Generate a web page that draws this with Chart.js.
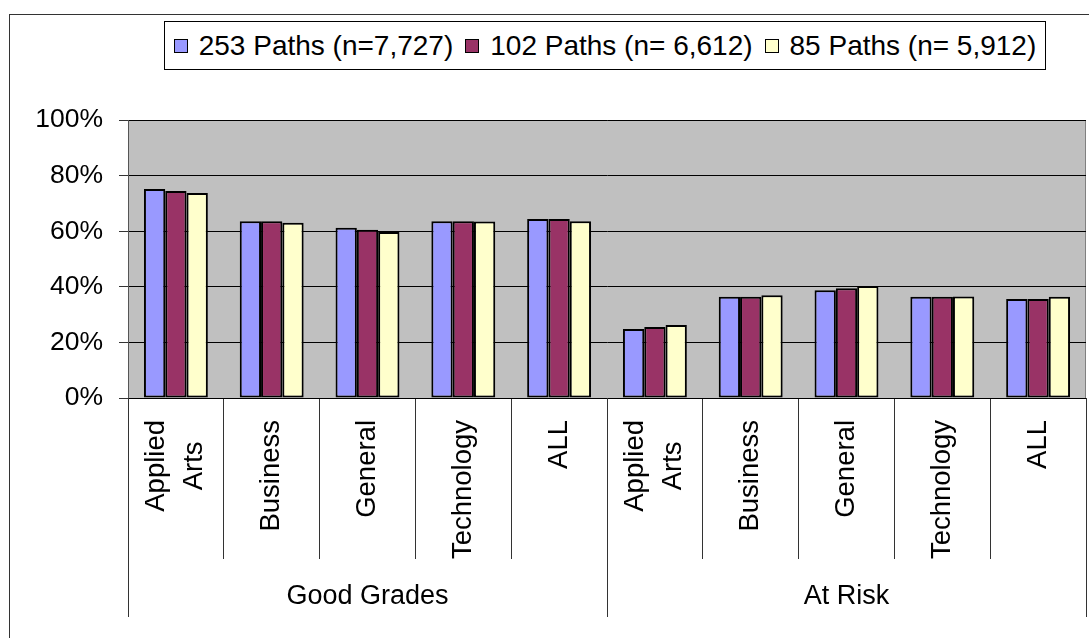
<!DOCTYPE html>
<html>
<head>
<meta charset="utf-8">
<script src="https://cdn.jsdelivr.net/npm/chart.js@4"></script>
<style>
  html, body { margin: 0; padding: 0; background: #fff; overflow: hidden; }
  #wrap { position: relative; width: 1089px; height: 638px; }
  #frame {
    position: absolute; left: 9px; top: 14px; width: 1200px; height: 800px;
    border: 1px solid #333; box-sizing: border-box;
  }
  #chart { position: absolute; left: 0; top: 0; }
  #legend {
    position: absolute; left: 164px; top: 21px; width: 882px; height: 49px;
    border: 1px solid #000; box-sizing: border-box; background: #fff;
    display: flex; align-items: center; justify-content: center;
    font: 28px "Liberation Sans", Arial, sans-serif; color: #000; white-space: nowrap;
  }
  #legend .item { display: flex; align-items: center; margin: 0 6px; }
  #legend .sw { width: 12px; height: 12px; border: 1px solid #000; margin-right: 11px; }
</style>
</head>
<body>
<div id="wrap">
  <div id="frame"></div>
  <canvas id="chart" width="1089" height="638"></canvas>
  <div id="legend"></div>
</div>
<script>
// ---- data ----
const CATEGORIES = [
  ["Applied", "Arts"], "Business", "General", "Technology", "ALL",
  ["Applied", "Arts"], "Business", "General", "Technology", "ALL",
];
const GROUPS = ["Good Grades", "At Risk"];
const GROUP_SIZES = [5, 5];

const SERIES_LABELS = ["253 Paths (n=7,727)", "102 Paths (n= 6,612)", "85 Paths (n= 5,912)"];
const SERIES_COLORS = ["#9999FF", "#993366", "#FFFFCC"];

const PATHS_253 = [75.2, 63.6, 61.2, 63.6, 64.4, 24.8, 36.4, 38.8, 36.4, 35.6];
const PATHS_102 = [74.5, 63.6, 60.5, 63.6, 64.4, 25.5, 36.4, 39.5, 36.4, 35.6];
const PATHS_85  = [73.7, 63.0, 59.7, 63.5, 63.6, 26.3, 37.0, 40.3, 36.5, 36.4];

const Y_TICKS = [0, 20, 40, 60, 80, 100];

const FONT = '"Liberation Sans", Arial, sans-serif';

// grey plot area with a thin border
const plotBackground = {
  id: "plotBackground",
  beforeDraw(chart) {
    const { ctx, chartArea: a } = chart;
    ctx.save();
    ctx.fillStyle = "#C0C0C0";
    ctx.fillRect(a.left, a.top, a.right - a.left, a.bottom - a.top);
    ctx.strokeStyle = "#808080";
    ctx.lineWidth = 1;
    ctx.strokeRect(a.left + 0.5, a.top + 0.5, a.right - a.left - 1, a.bottom - a.top);
    ctx.restore();
  }
};

// rotated category labels + group labels underneath (Excel style)
const categoryLabels = {
  id: "categoryLabels",
  afterDraw(chart) {
    const { ctx } = chart;
    const x = chart.scales.x;
    const lineH = 38;
    ctx.save();
    ctx.fillStyle = "#000";
    ctx.font = "27.5px " + FONT;
    ctx.textAlign = "center";
    ctx.textBaseline = "middle";

    chart.data.labels.forEach((lab, i) => {
      const lines = Array.isArray(lab) ? lab : [lab];
      const w = Math.max(...lines.map(l => ctx.measureText(l).width));
      const cx = x.getPixelForTick(i);
      const cy = x.top + 22 + w / 2;
      lines.forEach((l, j) => {
        ctx.save();
        ctx.translate(cx + (j - (lines.length - 1) / 2) * lineH, cy);
        ctx.rotate(-Math.PI / 2);
        ctx.fillText(l, 0, 0);
        ctx.restore();
      });
    });

    // group separators and names
    const half = (x.getPixelForTick(1) - x.getPixelForTick(0)) / 2;
    let start = 0;
    const edges = [x.left];
    GROUP_SIZES.forEach(n => {
      start += n;
      edges.push(start >= chart.data.labels.length ? x.right : x.getPixelForTick(start) - half);
    });
    ctx.strokeStyle = "#333";
    ctx.lineWidth = 1;
    edges.forEach(px => {
      const p = Math.round(px) + 0.5;
      ctx.beginPath();
      ctx.moveTo(p, x.top);
      ctx.lineTo(p, x.top + 219);
      ctx.stroke();
    });
    ctx.font = "27px " + FONT;
    GROUPS.forEach((g, k) => {
      ctx.fillText(g, (edges[k] + edges[k + 1]) / 2, x.top + 199);
    });
    ctx.restore();
  }
};

// html legend
const legendEl = document.getElementById("legend");
SERIES_LABELS.forEach((name, i) => {
  const item = document.createElement("span");
  item.className = "item";
  item.innerHTML = `<span class="sw" style="background:${SERIES_COLORS[i]}"></span>${name}`;
  legendEl.appendChild(item);
});

const seriesValues = [PATHS_253, PATHS_102, PATHS_85];

new Chart(document.getElementById("chart"), {
  type: "bar",
  data: {
    labels: CATEGORIES,
    datasets: SERIES_LABELS.map((name, i) => ({
      label: name,
      data: seriesValues[i],
      backgroundColor: SERIES_COLORS[i],
      borderColor: "#000",
      borderWidth: 2,
      borderSkipped: false,
      categoryPercentage: 0.667,
      barPercentage: 1.0,
    })),
  },
  options: {
    responsive: false,
    animation: false,
    layout: { padding: { top: 120, right: 3, left: 0, bottom: 0 } },
    plugins: { legend: { display: false }, tooltip: { enabled: false } },
    scales: {
      x: {
        afterFit: s => { s.height = 240; },
        grid: {
          offset: true,
          drawOnChartArea: false,
          drawTicks: true,
          tickLength: 161,
          color: "#333",
        },
        border: { display: true, color: "#000", width: 1 },
        ticks: { display: false },
      },
      y: {
        min: 0,
        max: 100,
        afterFit: s => { s.width = 128; },
        afterBuildTicks: s => { s.ticks = Y_TICKS.map(v => ({ value: v })); },
        grid: { color: "#000", tickLength: 9, tickColor: "#333" },
        border: { display: true, color: "#555", width: 1 },
        ticks: {
          padding: 16,
          color: "#000",
          font: { family: FONT, size: 26.5 },
          callback: v => v + "%",
        },
      },
    },
  },
  plugins: [plotBackground, categoryLabels],
});
</script>
</body>
</html>
